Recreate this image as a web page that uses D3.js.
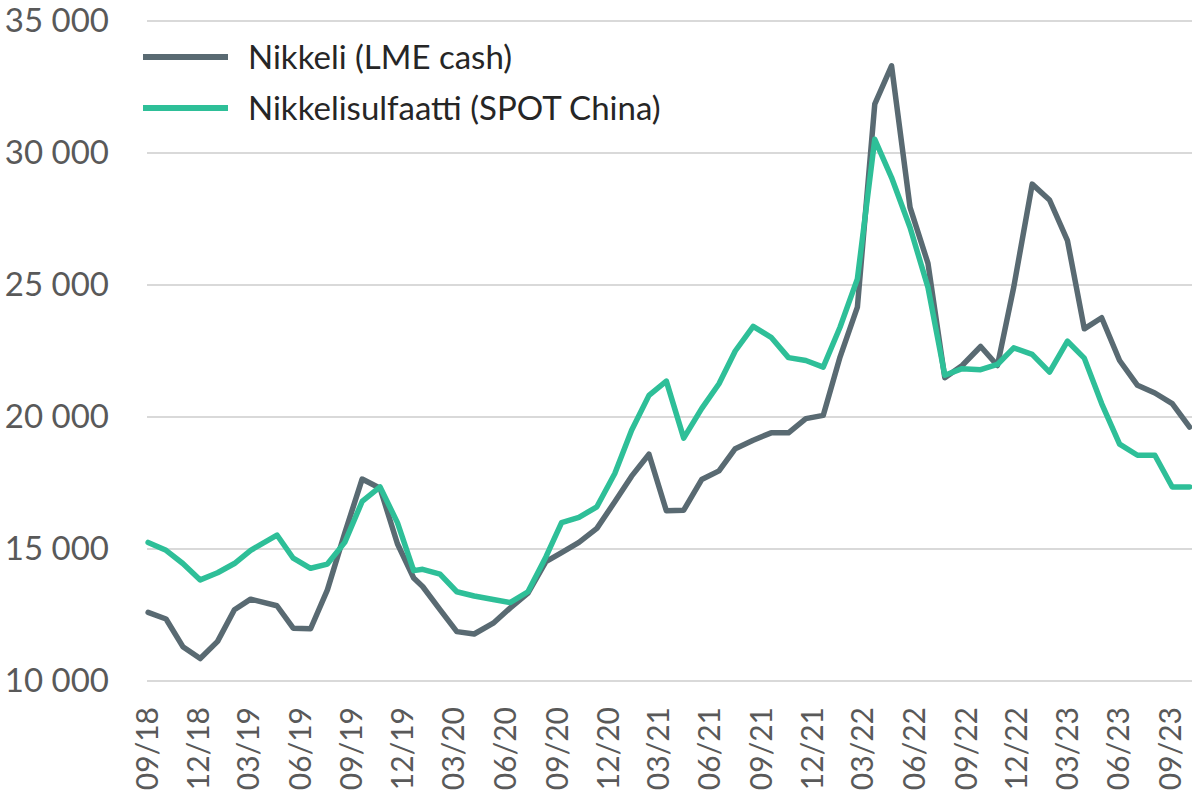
<!DOCTYPE html>
<html>
<head>
<meta charset="utf-8">
<script src="https://cdn.jsdelivr.net/npm/d3@7"></script>
<style>
  html, body { margin: 0; padding: 0; background: #fff; }
</style>
</head>
<body>
<svg id="chart" width="1192" height="795"></svg>
<script>
const dates = ["2018-09-03", "2018-10-05", "2018-11-04", "2018-12-05", "2019-01-05", "2019-02-04",
  "2019-03-05", "2019-04-21", "2019-05-20", "2019-06-20", "2019-07-20", "2019-08-20",
  "2019-09-20", "2019-10-22", "2019-11-22", "2019-12-21", "2020-01-06", "2020-02-06",
  "2020-03-07", "2020-04-07", "2020-05-11", "2020-06-10", "2020-07-12", "2020-08-13",
  "2020-09-10", "2020-10-11", "2020-11-12", "2020-12-14", "2021-01-13", "2021-02-13",
  "2021-03-16", "2021-04-16", "2021-05-18", "2021-06-18", "2021-07-17", "2021-08-18",
  "2021-09-19", "2021-10-20", "2021-11-20", "2021-12-21", "2022-01-20", "2022-02-20",
  "2022-03-23", "2022-04-22", "2022-05-25", "2022-06-26", "2022-07-26", "2022-08-26",
  "2022-09-28", "2022-10-28", "2022-11-26", "2022-12-29", "2023-01-29", "2023-03-02",
  "2023-04-01", "2023-05-02", "2023-06-03", "2023-07-05", "2023-08-05", "2023-09-05",
  "2023-10-06"];

const nickel = [12600, 12350, 11300, 10850, 11500, 12700, 13100, 12850, 12000, 11980,
  13450, 15600, 17650, 17300, 15200, 13900, 13580, 12700, 11870, 11780,
  12190, 12760, 13330, 14520, 14860, 15250, 15780, 16790, 17760, 18590,
  16450, 16470, 17630, 17960, 18800, 19120, 19400, 19400, 19940, 20060,
  22270, 24160, 31850, 33300, 27940, 25820, 21490, 21950, 22670, 21950,
  24910, 28820, 28220, 26680, 23340, 23760, 22140, 21200, 20910, 20510, 19620];

const sulfate = [15250, 14950, 14450, 13830, 14100, 14450, 14950, 15530, 14650, 14270,
  14430, 15250, 16800, 17350, 16000, 14180, 14230, 14050, 13380, 13220,
  13090, 12970, 13380, 14700, 16000, 16200, 16600, 17860, 19500, 20820,
  21360, 19200, 20320, 21260, 22500, 23430, 23020, 22250, 22140, 21890,
  23400, 25230, 30520, 29070, 27180, 24910, 21580, 21830, 21790, 21990,
  22620, 22370, 21700, 22870, 22230, 20510, 18970, 18550, 18550, 17350, 17350];

const tickLabels = ["09/18", "12/18", "03/19", "06/19", "09/19", "12/19", "03/20", "06/20",
  "09/20", "12/20", "03/21", "06/21", "09/21", "12/21", "03/22", "06/22", "09/22", "12/22",
  "03/23", "06/23", "09/23"];
const yTicks = [10000, 15000, 20000, 25000, 30000, 35000];

const seriesNames = ["Nikkeli (LME cash)", "Nikkelisulfaatti (SPOT China)"];
const colors = ["#596a72", "#2ebf98"];

const parseDate = d3.timeParse("%Y-%m-%d");
const parseTick = d3.timeParse("%m/%y");
const font = "Lato, 'Open Sans', sans-serif";

const svg = d3.select("#chart");

// scales
const x = d3.scaleTime()
  .domain([parseTick(tickLabels[0]), parseTick(tickLabels[tickLabels.length - 1])])
  .range([147, 1170]);
const y = d3.scaleLinear()
  .domain([10000, 35000])
  .range([681, 21]);

// horizontal gridlines
svg.append("g")
  .selectAll("line")
  .data(yTicks)
  .join("line")
  .attr("x1", 147)
  .attr("x2", 1192)
  .attr("y1", d => y(d))
  .attr("y2", d => y(d))
  .attr("stroke", "#d9d9d9")
  .attr("stroke-width", 2);

// y axis labels, thousands separated by a space
const fmt = d => d3.format(",")(d).replace(",", " ");
const yAxis = svg.append("g")
  .attr("transform", "translate(109,0)")
  .call(d3.axisLeft(y).tickValues(yTicks).tickFormat(fmt).tickSize(0).tickPadding(0));
yAxis.select(".domain").remove();
yAxis.selectAll("text")
  .style("font-family", font)
  .style("font-size", "33px")
  .attr("fill", "#595959");

// x axis labels, rotated
const xAxis = svg.append("g")
  .attr("transform", "translate(0,681)")
  .call(d3.axisBottom(x).tickValues(tickLabels.map(parseTick)).tickFormat(d3.timeFormat("%m/%y")).tickSize(0));
xAxis.select(".domain").remove();
xAxis.selectAll("text")
  .attr("transform", "rotate(-90)")
  .attr("x", -26)
  .attr("y", 0)
  .attr("dy", "0.35em")
  .style("text-anchor", "end")
  .style("font-family", font)
  .style("font-size", "30px")
  .attr("fill", "#595959");

// lines
const line = d3.line()
  .x(d => x(d.date))
  .y(d => y(d.value));

[nickel, sulfate].forEach((values, k) => {
  const pts = values.map((v, i) => ({ date: parseDate(dates[i]), value: v }));
  svg.append("path")
    .datum(pts)
    .attr("fill", "none")
    .attr("stroke", colors[k])
    .attr("stroke-width", 5.5)
    .attr("stroke-linejoin", "round")
    .attr("stroke-linecap", "round")
    .attr("d", line);
});

// legend
const legend = svg.append("g")
  .selectAll("g")
  .data(seriesNames)
  .join("g")
  .attr("transform", (d, i) => `translate(143,${57 + i * 51})`);
legend.append("line")
  .attr("x1", 0)
  .attr("x2", 85)
  .attr("stroke", (d, i) => colors[i])
  .attr("stroke-width", 6);
legend.append("text")
  .attr("x", 105)
  .attr("dy", "0.35em")
  .style("font-family", font)
  .style("font-size", "33px")
  .attr("fill", "#262626")
  .text(d => d);
</script>
</body>
</html>
